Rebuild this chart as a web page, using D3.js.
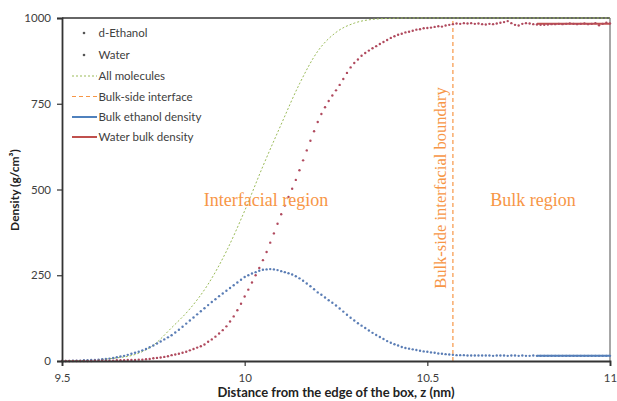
<!DOCTYPE html>
<html><head><meta charset="utf-8">
<script src="https://cdn.jsdelivr.net/npm/d3@7/dist/d3.min.js"></script>
<style>body{margin:0;background:#fff}svg{display:block}</style>
</head><body>
<svg id="chart" width="617" height="401"></svg>
<script>
// ---- data ----
const zStart = 9.5, zStep = 0.01;
const waterDensity = [
  0,0,0,0,0,0,0,0,0,1,
  1,1,1,1,1,2,2,2,3,3,
  3,4,4,5,6,8,9,10,12,14,
  17,19,21,24,27,31,35,39,43,48,
  56,63,71,80,90,101,115,130,148,167,
  188,208,229,250,271,294,318,345,372,400,
  428,453,478,502,528,556,585,614,642,670,
  697,720,740,758,774,789,805,822,840,856,
  869,879,890,898,905,912,918,924,930,936,
  942,947,951,954,958,960,963,966,967,970,
  971,972,974,976,975,978,980,982,984,983,
  985,984,985,983,984,982,981,983,982,984,
  986,988,991,985,980,978,983,985,984,982,
  981,980,980,981,982,982,983,982,983,984,
  983,982,983,984,982,983,985,979,983,986,
  984
];
const ethanolDensity = [
  0,0,0,1,1,1,2,2,3,3,
  4,5,6,7,9,11,13,15,18,21,
  24,27,31,35,40,45,51,57,63,69,
  75,83,91,100,109,118,127,136,145,154,
  163,172,180,189,197,205,213,221,229,237,
  245,250,255,259,263,266,267,268,267,265,
  262,259,256,252,247,241,234,226,218,209,
  200,193,185,177,170,162,153,144,135,126,
  118,110,103,96,89,82,76,70,64,58,
  53,49,45,41,38,36,34,32,30,28,
  27,25,24,22,21,20,19,18,17,17,
  17,16,16,16,16,16,16,16,15,16,
  16,16,15,16,16,15,16,15,15,16,
  15,15,15,15,15,15,15,15,15,15,
  15,15,15,15,15,15,15,15,15,15,
  15
];
const allZ =      [9.5, 9.55, 9.6, 9.65, 9.7, 9.75, 9.8, 9.85, 9.9, 9.95, 10.0, 10.05, 10.1, 10.15, 10.2, 10.25, 10.3, 10.35, 10.4, 10.45, 10.5, 10.6, 10.7, 10.8, 10.9, 11.0];
const allMolecules = [0, 1, 4, 9, 19, 46, 97, 152, 224, 320, 438, 568, 690, 808, 903, 958, 985, 996, 999, 1000, 1000, 1000, 1000, 1000, 1000, 1000];
const interfaceZ = 10.57;
const bulkRangeZ = [10.8, 11.0];
const bulkEthanol = 15;
const bulkWater = 983;
const xTicks = [9.5, 10, 10.5, 11];
const yTicks = [0, 250, 500, 750, 1000];
const legendLabels = ["d-Ethanol", "Water", "All molecules", "Bulk-side interface", "Bulk ethanol density", "Water bulk density"];

// ---- layout ----
const svg = d3.select("#chart");
const L = 62, R = 610, T = 18, B = 361;
const x = d3.scaleLinear().domain([9.5, 11]).range([L, R]);
const y = d3.scaleLinear().domain([0, 1000]).range([B, T]);
const font = "Lato, 'Open Sans', sans-serif";
const serif = "'Liberation Serif', 'DejaVu Serif', serif";
const txt = "#404040";
const orange = "#f79646", blue = "#4f81bd", green = "#9bbb59", red = "#c0504d", waterCol = "#b04a5e";

// frame
svg.append("line").attr("x1", R).attr("x2", R).attr("y1", T).attr("y2", B).attr("stroke", "#8a8a8a").attr("stroke-width", 1.5);
svg.append("line").attr("x1", L).attr("x2", R).attr("y1", T).attr("y2", T).attr("stroke", "#333").attr("stroke-width", 1.5);

// all molecules
svg.append("path").datum(allZ.map((z, i) => [z, allMolecules[i]]))
  .attr("fill", "none").attr("stroke", green).attr("stroke-width", 1).attr("stroke-dasharray", "2,2")
  .attr("d", d3.line().x(d => x(d[0])).y(d => y(d[1])).curve(d3.curveMonotoneX));

// interface
svg.append("line").attr("x1", x(interfaceZ)).attr("x2", x(interfaceZ)).attr("y1", y(0)).attr("y2", y(1000))
  .attr("stroke", orange).attr("stroke-width", 1.2).attr("stroke-dasharray", "4,3");

// bulk lines
svg.append("line").attr("x1", x(bulkRangeZ[0])).attr("x2", x(bulkRangeZ[1])).attr("y1", y(bulkEthanol)).attr("y2", y(bulkEthanol))
  .attr("stroke", blue).attr("stroke-width", 2);
svg.append("line").attr("x1", x(bulkRangeZ[0])).attr("x2", x(bulkRangeZ[1])).attr("y1", y(bulkWater)).attr("y2", y(bulkWater))
  .attr("stroke", red).attr("stroke-width", 2);

// points
svg.append("g").selectAll("circle").data(ethanolDensity).join("circle")
  .attr("cx", (d, i) => x(zStart + i * zStep)).attr("cy", d => y(d)).attr("r", 1.2).attr("fill", "#5a7db5");
svg.append("g").selectAll("circle").data(waterDensity).join("circle")
  .attr("cx", (d, i) => x(zStart + i * zStep)).attr("cy", d => y(d)).attr("r", 1.2).attr("fill", waterCol);

// axes
const yAxis = svg.append("g").attr("transform", `translate(${L},0)`)
  .call(d3.axisLeft(y).tickValues(yTicks).tickSize(5).tickPadding(6).tickFormat(d3.format("d")));
const xAxis = svg.append("g").attr("transform", `translate(0,${B})`)
  .call(d3.axisBottom(x).tickValues(xTicks).tickSize(5).tickPadding(8).tickFormat(d => d));
[yAxis, xAxis].forEach(g => {
  g.select(".domain").attr("stroke", "#333").attr("stroke-width", 1.8);
  g.selectAll(".tick line").attr("stroke", "#333").attr("stroke-width", 1.2);
  g.selectAll("text").attr("fill", txt).style("font-family", font).style("font-size", "11.5px");
});

// axis titles
svg.append("text").attr("x", 336).attr("y", 397).attr("text-anchor", "middle")
  .style("font-family", font).style("font-size", "13px").style("font-weight", "bold").attr("fill", "#222")
  .text("Distance from the edge of the box, z (nm)");
svg.append("text").attr("transform", "translate(19,190) rotate(-90)").attr("text-anchor", "middle")
  .style("font-family", font).style("font-size", "12px").style("font-weight", "bold").attr("fill", "#222")
  .text("Density (g/cm³)");

// region labels
svg.append("text").attr("x", 266).attr("y", 206).attr("text-anchor", "middle")
  .style("font-family", serif).style("font-size", "18px").attr("fill", orange)
  .text("Interfacial region");
svg.append("text").attr("x", 533).attr("y", 206).attr("text-anchor", "middle")
  .style("font-family", serif).style("font-size", "18px").attr("fill", orange)
  .text("Bulk region");
svg.append("text").attr("transform", "translate(446,188) rotate(-90)").attr("text-anchor", "middle")
  .style("font-family", serif).style("font-size", "16.5px").attr("fill", orange)
  .text("Bulk-side interfacial boundary");

// legend
const legY = [33, 55, 76, 96.5, 117, 137];
const lg = svg.append("g");
legendLabels.forEach((lab, i) => {
  const yy = legY[i];
  if (i === 0) lg.append("circle").attr("cx", 84).attr("cy", yy).attr("r", 1.3).attr("fill", "#555");
  if (i === 1) lg.append("circle").attr("cx", 84).attr("cy", yy).attr("r", 1.3).attr("fill", "#555");
  if (i === 2) lg.append("line").attr("x1", 72).attr("x2", 97).attr("y1", yy).attr("y2", yy).attr("stroke", green).attr("stroke-dasharray", "2,2");
  if (i === 3) lg.append("line").attr("x1", 72).attr("x2", 97).attr("y1", yy).attr("y2", yy).attr("stroke", orange).attr("stroke-width", 1.2).attr("stroke-dasharray", "4,3");
  if (i === 4) lg.append("line").attr("x1", 72).attr("x2", 97).attr("y1", yy).attr("y2", yy).attr("stroke", blue).attr("stroke-width", 2);
  if (i === 5) lg.append("line").attr("x1", 72).attr("x2", 97).attr("y1", yy).attr("y2", yy).attr("stroke", red).attr("stroke-width", 2);
  lg.append("text").attr("x", 98.5).attr("y", yy + 4).style("font-family", font).style("font-size", "11.5px").attr("fill", txt).text(lab);
});
</script>
</body></html>
